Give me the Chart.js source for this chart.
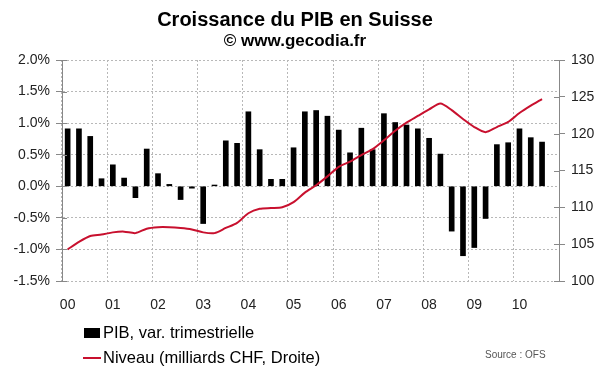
<!DOCTYPE html>
<html>
<head>
<meta charset="utf-8">
<title>Croissance du PIB en Suisse</title>
<script src="https://cdn.jsdelivr.net/npm/chart.js@4.4.1/dist/chart.umd.min.js"></script>
<style>
    html, body { margin: 0; padding: 0; background: #fff; }
    #cadre { width: 600px; height: 372px; position: relative; }
</style>
</head>
<body>
<div id="cadre"><canvas id="pib-chart"></canvas></div>
<script>
    "use strict";

    // Années (étiquettes de l'axe), un trimestre = une barre
    var annees = ["00", "01", "02", "03", "04", "05", "06", "07", "08", "09", "10"];

    // PIB, variation trimestrielle en %
    var pib = [0.91, 0.91, 0.79, 0.12,
               0.34, 0.13, -0.18, 0.59,
               0.20, 0.03, -0.21, -0.03,
               -0.59, 0.02, 0.72, 0.68,
               1.18, 0.58, 0.11, 0.11,
               0.61, 1.18, 1.20, 1.11,
               0.89, 0.53, 0.92, 0.58,
               1.15, 1.01, 0.97, 0.91,
               0.76, 0.51, -0.71, -1.10,
               -0.97, -0.51, 0.66, 0.69,
               0.91, 0.77, 0.70, null];

    // Niveau du PIB en milliards CHF (axe de droite)
    var niveau = [104.3, 105.3, 106.1, 106.3,
                  106.6, 106.7, 106.5, 107.1,
                  107.3, 107.3, 107.2, 107.0,
                  106.6, 106.5, 107.2, 107.9,
                  109.2, 109.8, 109.9, 110.0,
                  110.7, 112.0, 113.0, 114.2,
                  115.5, 116.2, 117.1, 117.9,
                  119.1, 120.4, 121.5, 122.4,
                  123.3, 124.1, 123.2, 122.0,
                  120.9, 120.2, 120.9, 121.6,
                  122.8, 123.8, 124.7, null];

    var trimestres = [];
    annees.forEach(function (a) {
        for (var q = 1; q <= 4; q++) {
            trimestres.push(a + "T" + q);
        }
    });

    var police = "'Liberation Sans', Arial, sans-serif";
    var rouge = "#c8102e";

    // Petits traits de graduation côté intérieur (les axes du modèle sont "en croix")
    var croix = {
        id: "croix",
        afterDraw: function (chart) {
            var ctx = chart.ctx;
            ctx.save();
            ctx.strokeStyle = "#888";
            ctx.lineWidth = 1;
            ["y", "y1"].forEach(function (id) {
                var s = chart.scales[id];
                var x0 = (id === "y") ? s.right : s.left;
                var dx = (id === "y") ? 5 : -5;
                s.ticks.forEach(function (t) {
                    var py = Math.round(s.getPixelForValue(t.value)) + 0.5;
                    ctx.beginPath();
                    ctx.moveTo(x0, py);
                    ctx.lineTo(x0 + dx, py);
                    ctx.stroke();
                });
            });
            ctx.restore();
        }
    };

    // Titre, légende et source dessinés à la main
    var habillage = {
        id: "habillage",
        afterDraw: function (chart) {
            var ctx = chart.ctx;
            ctx.save();
            ctx.fillStyle = "#000";
            ctx.textAlign = "center";
            ctx.textBaseline = "middle";
            ctx.font = "bold 20px " + police;
            ctx.fillText("Croissance du PIB en Suisse", 295, 20);
            ctx.font = "bold 17px " + police;
            ctx.fillText("© www.gecodia.fr", 295, 41);

            // légende
            ctx.textAlign = "left";
            ctx.font = "16.5px " + police;
            ctx.fillStyle = "#000";
            ctx.fillRect(84, 328, 16, 10);
            ctx.fillText(chart.data.datasets[1].label, 103, 333);
            ctx.strokeStyle = rouge;
            ctx.lineWidth = 2;
            ctx.beginPath();
            ctx.moveTo(83, 358);
            ctx.lineTo(101, 358);
            ctx.stroke();
            ctx.fillText(chart.data.datasets[0].label, 103, 358);

            ctx.font = "10px " + police;
            ctx.fillStyle = "#555";
            ctx.fillText("Source : OFS", 485, 355);
            ctx.restore();
        }
    };

    var ctx1 = document.getElementById("pib-chart").getContext("2d");
    new Chart(ctx1, {
        type: "bar",
        data: {
            labels: trimestres,
            datasets: [
                {
                    type: "line",
                    label: "Niveau (milliards CHF, Droite)",
                    data: niveau,
                    yAxisID: "y1",
                    borderColor: rouge,
                    borderWidth: 2,
                    pointRadius: 0,
                    tension: 0.25,
                    order: 0
                },
                {
                    label: "PIB, var. trimestrielle",
                    data: pib,
                    yAxisID: "y",
                    backgroundColor: "#000",
                    barThickness: 5,
                    order: 1
                }
            ]
        },
        options: {
            responsive: true,
            maintainAspectRatio: false,
            animation: false,
            layout: { padding: { top: 60, left: 0, right: 0, bottom: 0 } },
            plugins: {
                legend: { display: false },
                title: { display: false },
                tooltip: { enabled: false }
            },
            scales: {
                x: {
                    offset: true,
                    grid: {
                        offset: true,
                        drawTicks: false,
                        color: function (c) {
                            return (c.index % 4 === 0) ? "#b8b8b8" : "rgba(0,0,0,0)";
                        }
                    },
                    border: { display: false, dash: [2, 2] },
                    ticks: {
                        autoSkip: false,
                        maxRotation: 0,
                        padding: 16,
                        color: "#222",
                        font: { family: police, size: 14 },
                        callback: function (v, i) {
                            return (i % 4 === 0) ? annees[i / 4] : "";
                        }
                    },
                    afterFit: function (s) { s.height = 91; }
                },
                y: {
                    position: "left",
                    min: -1.5,
                    max: 2.0,
                    grid: {
                        color: "#b8b8b8",
                        tickColor: "#888",
                        tickLength: 6,
                        tickBorderDash: []
                    },
                    border: { color: "#888", dash: [2, 2] },
                    ticks: {
                        stepSize: 0.5,
                        padding: 6,
                        color: "#222",
                        font: { family: police, size: 14 },
                        callback: function (v) { return v.toFixed(1) + "%"; }
                    },
                    afterFit: function (s) { s.width = 62; }
                },
                y1: {
                    position: "right",
                    min: 100,
                    max: 130,
                    grid: {
                        drawOnChartArea: false,
                        tickColor: "#888",
                        tickLength: 6
                    },
                    border: { color: "#888" },
                    ticks: {
                        stepSize: 5,
                        padding: 6,
                        color: "#222",
                        font: { family: police, size: 14 }
                    },
                    afterFit: function (s) { s.width = 41; }
                }
            }
        },
        plugins: [habillage, croix]
    });
</script>
</body>
</html>
